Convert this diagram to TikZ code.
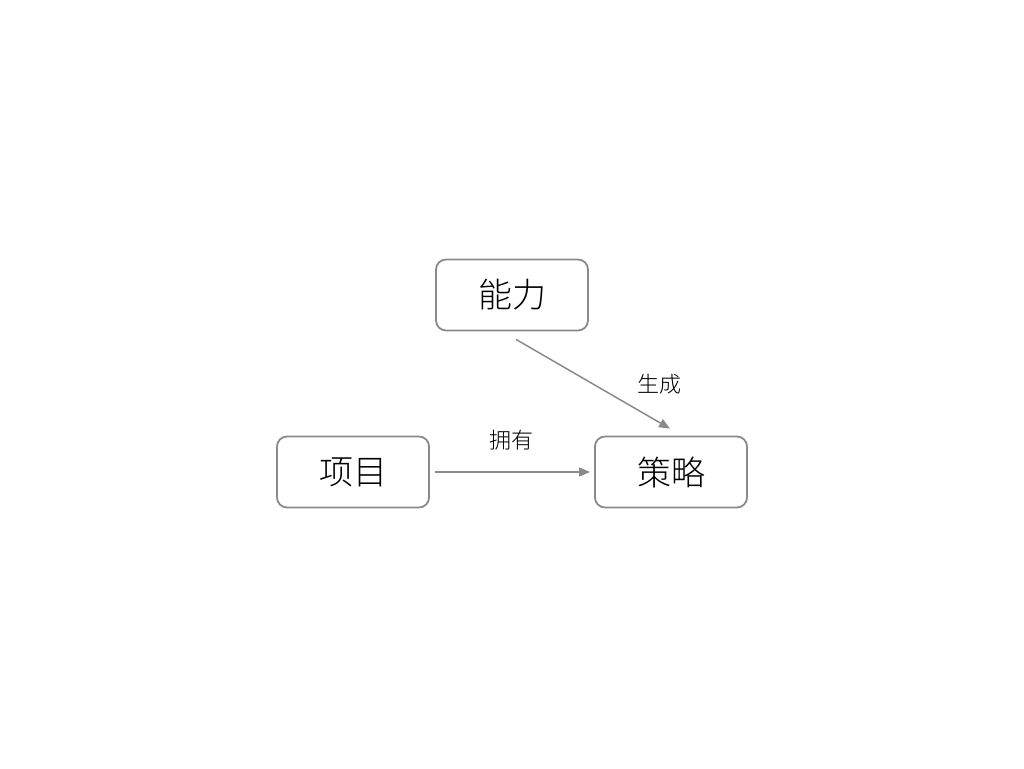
\documentclass[tikz,border=0pt]{standalone}
\usepackage{fontspec}
\newfontfamily\cjk{Noto Sans CJK SC Light}
\usetikzlibrary{arrows.meta}
\definecolor{boxgray}{HTML}{8A8A8A}
\begin{document}
\begin{tikzpicture}[x=1pt,y=-1pt,
  box/.style={shape=rectangle,rounded corners=10pt,draw=boxgray,line width=1.8pt,minimum width=152pt,minimum height=71pt,font=\cjk\fontsize{34}{40}\selectfont},
  lbl/.style={font=\cjk\fontsize{22}{26}\selectfont},
  link/.style={draw=boxgray,line width=1.5pt,-{Triangle[length=11pt,width=9pt]}}]
\useasboundingbox (0,0) rectangle (1024,768);
\node[box] (nengli) at (512, 295) {能力};
\node[box] (xiangmu) at (353, 472) {项目};
\node[box] (celue) at (671, 472) {策略};

\draw [link,shorten <=5pt,shorten >=4pt] (xiangmu) -- (celue);
\draw [link] ([xshift=4pt,yshift=-8pt]nengli.south) -- ([xshift=-1pt,yshift=7pt]celue.north);

\node[lbl] (yongyou) at (511, 440) {拥有};
\node[lbl] (shengcheng) at (659, 384) {生成};
\end{tikzpicture}
\end{document}
